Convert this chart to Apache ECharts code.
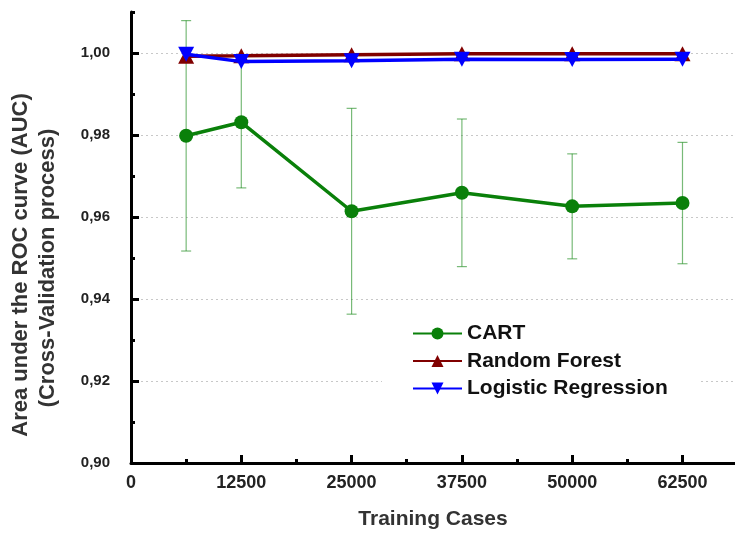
<!DOCTYPE html>
<html>
<head>
<meta charset="utf-8">
<script src="https://cdn.jsdelivr.net/npm/echarts@6/dist/echarts.min.js"></script>
<style>
html,body{margin:0;padding:0;background:#fff;}
#chart{width:735px;height:534px;}
</style>
</head>
<body>
<div id="chart"></div>
<script>
const trainingCases = [6250, 12500, 25000, 37500, 50000, 62500];
const cartAUC = [0.9798, 0.9831, 0.9614, 0.9659, 0.9626, 0.9634];
const cartErr = [0.0281, 0.0160, 0.0251, 0.0180, 0.0128, 0.0148];
const rfAUC = [0.9992, 0.9993, 0.9996, 0.9998, 0.9998, 0.9998];
const lrAUC = [0.9997, 0.9979, 0.9981, 0.9985, 0.9984, 0.9985];
const xTickValues = [0, 12500, 25000, 37500, 50000, 62500];
const xMinorTicks = [6250, 18750, 31250, 43750, 56250];
const yTickValues = [0.90, 0.92, 0.94, 0.96, 0.98, 1.00];
const yMinorTicks = [0.91, 0.93, 0.95, 0.97, 0.99, 1.01];
const seriesNames = ['CART', 'Random Forest', 'Logistic Regression'];
const yTitleLines = ['Area under the ROC curve (AUC)', '(Cross-Validation process)'];

const FONT = '"Liberation Sans", Arial, sans-serif';
const pairs = arr => trainingCases.map((x, i) => [x, arr[i]]);
const errData = trainingCases.map((x, i) => [x, cartAUC[i] - cartErr[i], cartAUC[i] + cartErr[i]]);

const chart = echarts.init(document.getElementById('chart'));
chart.setOption({
  animation: false,
  backgroundColor: '#fff',
  grid: { left: 131, right: 0, top: 12, bottom: 71, containLabel: false, outerBoundsMode: 'none' },
  graphic: [
    {
      type: 'text', x: 21, y: 265, rotation: Math.PI / 2,
      style: { text: yTitleLines[0], fontFamily: FONT, fontWeight: 'bold', fontSize: 22, fill: '#333', align: 'center', verticalAlign: 'middle' }
    },
    {
      type: 'text', x: 48, y: 268, rotation: Math.PI / 2,
      style: { text: yTitleLines[1], fontFamily: FONT, fontWeight: 'bold', fontSize: 22, fill: '#333', align: 'center', verticalAlign: 'middle' }
    }
  ],
  legend: {
    data: seriesNames,
    orient: 'vertical',
    left: 382,
    top: 315,
    padding: [8, 33, 8, 30],
    backgroundColor: '#fff',
    itemWidth: 49,
    itemHeight: 15,
    itemGap: 6.5,
    textStyle: { fontFamily: FONT, fontWeight: 'bold', fontSize: 21, color: '#111' }
  },
  xAxis: [{
    type: 'value', min: 0, max: 68450,
    name: 'Training Cases', nameLocation: 'middle', nameGap: 46,
    nameTextStyle: { fontFamily: FONT, fontWeight: 'bold', fontSize: 21, color: '#333' },
    axisLine: { show: true, lineStyle: { color: '#000', width: 3 } },
    axisTick: { show: true, inside: true, length: 8, customValues: xTickValues, lineStyle: { color: '#000', width: 3 } },
    axisLabel: { customValues: xTickValues, margin: 11, fontFamily: FONT, fontWeight: 'bold', fontSize: 18, color: '#222', formatter: v => String(v) },
    splitLine: { show: false }
  }, {
    type: 'value', min: 0, max: 68450, position: 'bottom',
    axisLine: { show: false },
    axisTick: { show: true, inside: true, length: 4, customValues: xMinorTicks, lineStyle: { color: '#000', width: 3 } },
    axisLabel: { show: false },
    splitLine: { show: false }
  }],
  yAxis: [{
    type: 'value', min: 0.90, max: 1.01,
    axisLine: { show: true, lineStyle: { color: '#000', width: 3 } },
    axisTick: { show: true, inside: true, length: 8, customValues: yTickValues, lineStyle: { color: '#000', width: 3 } },
    axisLabel: {
      customValues: yTickValues, margin: 21, fontFamily: FONT, fontWeight: 'bold', fontSize: 15, color: '#222',
      formatter: v => v.toFixed(2).replace('.', ',')
    },
    splitLine: { show: true, lineStyle: { color: '#c8c8c8', type: [2, 3], width: 1 } }
  }, {
    type: 'value', min: 0.90, max: 1.01, position: 'left',
    axisLine: { show: false },
    axisTick: { show: true, inside: true, length: 4, customValues: yMinorTicks, lineStyle: { color: '#000', width: 3 } },
    axisLabel: { show: false },
    splitLine: { show: false }
  }],
  series: [
    {
      type: 'custom',
      xAxisIndex: 0, yAxisIndex: 0,
      z: 1,
      data: errData,
      renderItem: (params, api) => {
        const x = api.value(0);
        const lo = api.coord([x, api.value(1)]);
        const hi = api.coord([x, api.value(2)]);
        const hw = 5;
        const style = { stroke: 'rgba(30,140,30,0.6)', lineWidth: 1.2, fill: null };
        return {
          type: 'group',
          children: [
            { type: 'line', shape: { x1: lo[0], y1: lo[1], x2: hi[0], y2: hi[1] }, style },
            { type: 'line', shape: { x1: lo[0] - hw, y1: lo[1], x2: lo[0] + hw, y2: lo[1] }, style },
            { type: 'line', shape: { x1: hi[0] - hw, y1: hi[1], x2: hi[0] + hw, y2: hi[1] }, style }
          ]
        };
      }
    },
    {
      name: 'CART', type: 'line', z: 3,
      data: pairs(cartAUC),
      symbol: 'circle', symbolSize: 14,
      lineStyle: { color: '#0a800a', width: 3.5 },
      itemStyle: { color: '#0a800a' }
    },
    {
      name: 'Random Forest', type: 'line', z: 4,
      data: pairs(rfAUC),
      symbol: 'triangle', symbolSize: [16, 15],
      lineStyle: { color: '#800000', width: 3.5 },
      itemStyle: { color: '#800000' }
    },
    {
      name: 'Logistic Regression', type: 'line', z: 5,
      data: pairs(lrAUC),
      symbol: 'path://M0,0 L10,0 L5,10 Z', symbolSize: [16, 15],
      lineStyle: { color: '#0000ff', width: 3.5 },
      itemStyle: { color: '#0000ff' }
    }
  ]
});
</script>
</body>
</html>
